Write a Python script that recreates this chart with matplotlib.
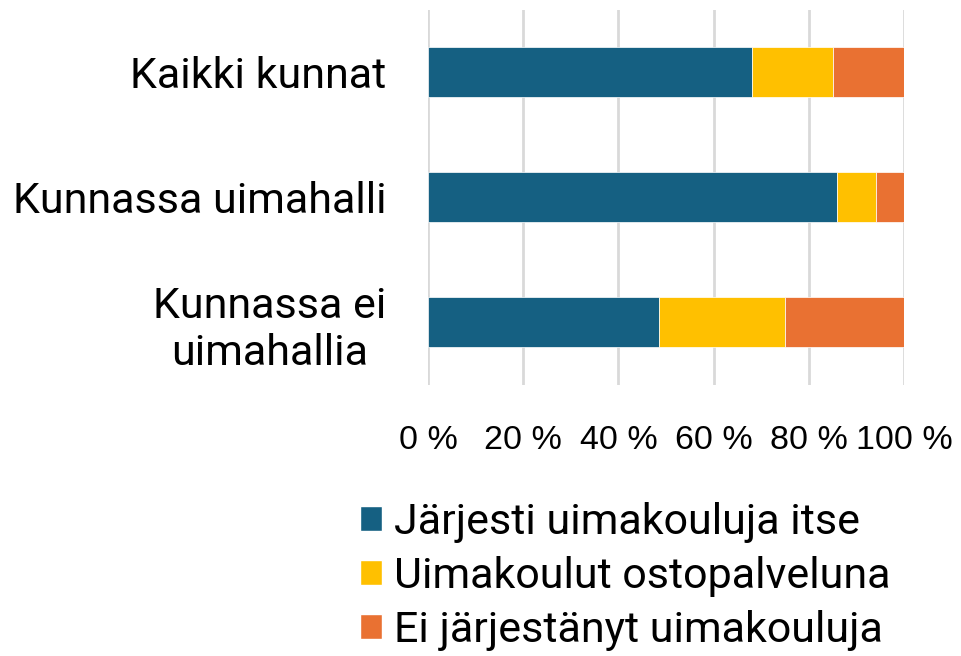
import numpy as np
import matplotlib
matplotlib.use("Agg")
import matplotlib.pyplot as plt
from matplotlib.patches import Patch

# ryhmät ja osuudet (%)
categories = ["Kaikki kunnat", "Kunnassa uimahalli", "Kunnassa ei\nuimahallia"]
itse = [68.0, 86.0, 48.5]
osto = [17.1, 8.1, 26.6]
ei = [14.9, 5.9, 24.9]
series_names = ["Järjesti uimakouluja itse", "Uimakoulut ostopalveluna",
                "Ei järjestänyt uimakouluja"]
colors = ["#156082", "#FFC000", "#E97132"]
ticks = [0, 20, 40, 60, 80, 100]
tick_labels = ["0 %", "20 %", "40 %", "60 %", "80 %", "100 %"]

W, H = 961, 656
fig = plt.figure(figsize=(W / 100, H / 100), dpi=100)
ax = fig.add_axes([428 / W, 1 - 385 / H, (904 - 428) / W, (385 - 9.5) / H])

y = np.arange(len(categories))
left = np.zeros(len(categories))
for vals, c in zip([itse, osto, ei], colors):
    ax.barh(y, vals, left=left, height=0.4, color=c, edgecolor="white",
            linewidth=0.5, zorder=3)
    left = left + np.array(vals)

ax.set_xlim(0, 100)
ax.set_ylim(len(categories) - 0.5, -0.5)
ax.set_xticks(ticks)
ax.set_xticklabels(tick_labels, fontsize=24.5, family="Liberation Sans")
ax.set_yticks(y)
ax.set_yticklabels(categories, fontsize=31, family="Roboto",
                   multialignment="center")
ax.tick_params(axis="x", length=0, pad=29)
ax.tick_params(axis="y", length=0, pad=30)
ax.grid(axis="x", color="#d9d9d9", linewidth=2, zorder=0)
for s in ax.spines.values():
    s.set_visible(False)

handles = [Patch(facecolor=c, edgecolor="white") for c in colors]
fig.legend(handles, series_names, loc="upper left",
           bbox_to_anchor=(360 / W, 1 - 502 / H), frameon=False,
           borderpad=0, borderaxespad=0,
           prop={"family": "Roboto", "size": 31}, handlelength=0.5,
           handleheight=0.5, handletextpad=0.3, labelspacing=0.3)

fig.savefig("out.png", dpi=100)
